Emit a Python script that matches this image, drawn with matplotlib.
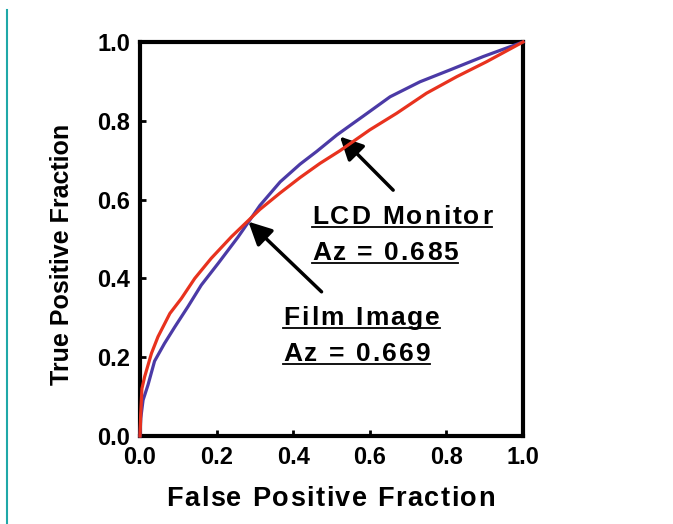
import matplotlib
matplotlib.use('Agg')
import matplotlib.pyplot as plt
from matplotlib.font_manager import FontProperties
from matplotlib.lines import Line2D
from matplotlib.transforms import IdentityTransform

# ROC curves
LCD_FPF = [0, 0.002, 0.008, 0.021, 0.038, 0.064, 0.091, 0.125, 0.16, 0.204,
           0.256, 0.313, 0.366, 0.418, 0.461, 0.514, 0.557, 0.583, 0.653,
           0.731, 0.809, 0.896, 1.0]
LCD_TPF = [0, 0.045, 0.091, 0.13, 0.19, 0.235, 0.277, 0.328, 0.383, 0.438,
           0.505, 0.585, 0.645, 0.69, 0.722, 0.764, 0.794, 0.812, 0.861,
           0.899, 0.929, 0.963, 1.0]
FILM_FPF = [0, 0.002, 0.005, 0.012, 0.03, 0.047, 0.078, 0.108, 0.143, 0.186,
            0.239, 0.27, 0.313, 0.366, 0.418, 0.47, 0.522, 0.60, 0.67, 0.748,
            0.827, 0.905, 1.0]
FILM_TPF = [0, 0.06, 0.12, 0.15, 0.21, 0.252, 0.311, 0.349, 0.40, 0.451,
            0.506, 0.535, 0.575, 0.617, 0.656, 0.692, 0.724, 0.777, 0.819,
            0.87, 0.912, 0.95, 1.0]
TICKS = [0.0, 0.2, 0.4, 0.6, 0.8, 1.0]
LCD_LABEL = ['LCD Monitor', 'Az = 0.685']
FILM_LABEL = ['Film Image', 'Az = 0.669']

W, H = 673, 524
FONT = 'Liberation Sans'


def tracked(fig, s, x_px, y_px, size, target_w, underline=False):
    """Draw s letter by letter, spread so it spans target_w pixels."""
    fp = FontProperties(family=FONT, weight='bold', size=size)
    r = fig.canvas.get_renderer()
    bar = r.get_text_width_height_descent('|', fp, ismath=False)[0]
    pos = [r.get_text_width_height_descent(s[:i] + '|', fp, ismath=False)[0] - bar
           for i in range(len(s))]
    natural = r.get_text_width_height_descent(s, fp, ismath=False)[0]
    track = (target_w - natural) / max(len(s) - 1, 1)
    y = H - y_px
    for i, ch in enumerate(s):
        if ch == ' ':
            continue
        fig.text(x_px + pos[i] + i * track, y, ch, fontproperties=fp,
                 transform=IdentityTransform(), ha='left', va='baseline')
    if underline:
        fig.add_artist(Line2D([x_px, x_px + target_w], [y - 3, y - 3], color='black',
                              lw=1.3, transform=IdentityTransform()))


fig = plt.figure(figsize=(W / 100, H / 100), dpi=100)
ax = fig.add_axes([140 / W, 88 / H, 383 / W, 394 / H])

ax.plot(LCD_FPF, LCD_TPF, color='#4b3aa6', lw=2.3, clip_on=False, zorder=3,
        solid_joinstyle='round')
ax.plot(FILM_FPF, FILM_TPF, color='#e8321e', lw=2.3, clip_on=False, zorder=4,
        solid_joinstyle='round')

ax.set_xlim(0, 1)
ax.set_ylim(0, 1)
ax.set_xticks(TICKS)
ax.set_yticks(TICKS)
ax.set_xticklabels(['%.1f' % t for t in TICKS])
ax.set_yticklabels(['%.1f' % t for t in TICKS])
for sp in ax.spines.values():
    sp.set_linewidth(3)
ax.tick_params(direction='in', length=4, width=2, pad=7)
for lab in ax.get_xticklabels() + ax.get_yticklabels():
    lab.set_fontfamily(FONT)
    lab.set_fontweight('bold')
    lab.set_fontsize(17)

arrow = dict(arrowstyle='-|>,head_length=1.0,head_width=0.5', mutation_scale=14,
             lw=2.5, color='black', shrinkA=0, shrinkB=0)
ax.annotate('', xy=(0.522, 0.76), xytext=(0.661, 0.624), arrowprops=arrow)
ax.annotate('', xy=(0.283, 0.544), xytext=(0.474, 0.366), arrowprops=arrow)

fig.canvas.draw()
tracked(fig, LCD_LABEL[0], 312, 224, 19, 180, underline=True)
tracked(fig, LCD_LABEL[1], 312, 260, 19, 146, underline=True)
tracked(fig, FILM_LABEL[0], 283, 325, 19, 157, underline=True)
tracked(fig, FILM_LABEL[1], 283, 361, 19, 147, underline=True)
tracked(fig, 'False Positive Fraction', 166, 506, 19.5, 329)

fig.text(62 / W, 1 - 254 / H, 'True Positive Fraction', rotation=90, ha='center',
         va='center', family=FONT, weight='bold', fontsize=18)

fig.add_artist(Line2D([7 / W, 7 / W], [0, 1 - 10 / H], color='#1fa8a8', lw=1.5,
                      transform=fig.transFigure))

fig.savefig('out.png', dpi=100)
